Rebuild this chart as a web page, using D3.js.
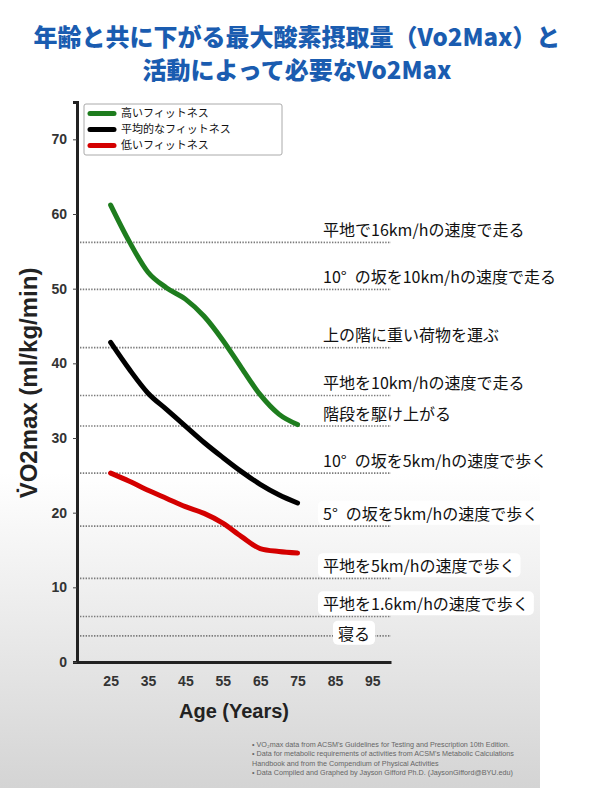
<!DOCTYPE html>
<html>
<head>
<meta charset="utf-8">
<script src="https://cdn.jsdelivr.net/npm/d3@7"></script>
<style>
  html, body { margin: 0; padding: 0; background: #fff; }
  svg { display: block; }
</style>
</head>
<body>
<svg></svg>
<script>
let width = 600;
let height = 800;

// values
const ages = [25, 30, 35, 40, 45, 50, 55, 60, 65, 70, 75];
const highFit = [61.2, 56.3, 52.2, 50.1, 48.6, 46.3, 43.1, 39.4, 35.8, 33.2, 31.8];
const avgFit = [42.8, 39.2, 36.0, 33.8, 31.6, 29.4, 27.4, 25.5, 23.8, 22.4, 21.3];
const lowFit = [25.3, 24.2, 23.0, 21.9, 20.8, 19.9, 18.6, 16.8, 15.2, 14.8, 14.6];
const seriesNames = ['高いフィットネス', '平均的なフィットネス', '低いフィットネス'];
const seriesColors = ['#1e7d1e', '#000000', '#d40000'];

const activities = [
    '平地で16km/hの速度で走る',
    '10°\u2002の坂を10km/hの速度で走る',
    '上の階に重い荷物を運ぶ',
    '平地を10km/hの速度で走る',
    '階段を駆け上がる',
    '10°\u2002の坂を5km/hの速度で歩く',
    '5°\u2002の坂を5km/hの速度で歩く',
    '平地を5km/hの速度で歩く',
    '平地を1.6km/hの速度で歩く',
    '寝る'
];
const activityVo2 = [56.2, 49.9, 42.1, 35.7, 31.6, 25.3, 18.2, 11.2, 6.1, 3.5];

const xTicks = [25, 35, 45, 55, 65, 75, 85, 95];
const yTicks = [0, 10, 20, 30, 40, 50, 60, 70];

const titleLines = ['年齢と共に下がる最大酸素摂取量（Vo2Max）と', '活動によって必要なVo2Max'];
const footnotes = [
    '•  VO₂max data from ACSM\'s Guidelines for Testing and Prescription 10th Edition.',
    '•  Data for metabolic requirements of activities from ACSM\'s Metabolic Calculations',
    '     Handbook and from the Compendium of Physical Activities',
    '•  Data Compiled and Graphed by Jayson Gifford Ph.D. (JaysonGifford@BYU.edu)'
];

let svg = d3.select('svg')
    .attr('width', width)
    .attr('height', height);

// grey fade behind the chart picture
let grad = svg.append('defs').append('linearGradient')
    .attr('id', 'bg')
    .attr('x1', 0).attr('y1', 0).attr('x2', 0).attr('y2', 1);
grad.append('stop').attr('offset', '0%').attr('stop-color', '#ffffff');
grad.append('stop').attr('offset', '60%').attr('stop-color', '#ffffff');
grad.append('stop').attr('offset', '100%').attr('stop-color', '#d4d4d4');

svg.append('rect')
    .attr('x', 0).attr('y', 0)
    .attr('width', 540).attr('height', 788)
    .attr('fill', 'url(#bg)');

// title
svg.append('g').selectAll('text')
    .data(titleLines)
    .enter()
    .append('text')
    .attr('x', 297)
    .attr('y', (d, i) => 46 + i * 33)
    .attr('text-anchor', 'middle')
    .attr('font-family', '"Noto Sans CJK JP", sans-serif')
    .attr('font-weight', 900)
    .attr('font-size', 24)
    .attr('fill', '#1a5cb0')
    .text(d => d);

let x = d3.scaleLinear().domain([16, 100]).range([77, 391]);
let y = d3.scaleLinear().domain([0, 75]).range([662, 102]);

let chart = svg.append('g');

// dotted activity lines
chart.selectAll('line.activity')
    .data(activityVo2)
    .enter()
    .append('line')
    .classed('activity', true)
    .attr('x1', x(16) + 3)
    .attr('x2', x(100))
    .attr('y1', d => y(d))
    .attr('y2', d => y(d))
    .attr('stroke', '#7a7a7a')
    .attr('stroke-width', 1.6)
    .attr('stroke-dasharray', '1.4,1.4');

// axes
let yAxis = d3.axisLeft(y).tickValues(yTicks).tickSize(4).tickPadding(6);
let xAxis = d3.axisBottom(x).tickValues(xTicks).tickSize(0).tickPadding(14);

let yg = chart.append('g')
    .attr('transform', `translate(${x(16)},0)`)
    .call(yAxis);
let xg = chart.append('g')
    .attr('transform', `translate(0,${y(0)})`)
    .call(xAxis);

[yg, xg].forEach(g => {
    g.select('.domain').attr('stroke', '#222').attr('stroke-width', 3);
    g.selectAll('.tick line').attr('stroke', '#444').attr('stroke-width', 1);
    g.selectAll('.tick text')
        .attr('font-family', '"Liberation Sans", Arial, sans-serif')
        .attr('font-weight', 'bold')
        .attr('font-size', 14)
        .attr('fill', '#333');
});
xg.selectAll('.tick text').attr('dy', '0.71em');

// axis titles
chart.append('text')
    .attr('x', 234)
    .attr('y', 718)
    .attr('text-anchor', 'middle')
    .attr('font-family', '"Liberation Sans", Arial, sans-serif')
    .attr('font-weight', 'bold')
    .attr('font-size', 20)
    .attr('fill', '#222')
    .text('Age (Years)');

chart.append('text')
    .attr('transform', 'translate(37,383) rotate(-90)')
    .attr('text-anchor', 'middle')
    .attr('font-family', '"Liberation Sans", Arial, sans-serif')
    .attr('font-weight', 'bold')
    .attr('font-size', 24)
    .attr('fill', '#222')
    .text('V\u0307O2max (ml/kg/min)');

// fitness curves
let line = d3.line()
    .x((d, i) => x(ages[i]))
    .y(d => y(d))
    .curve(d3.curveMonotoneX);

chart.selectAll('path.series')
    .data([highFit, avgFit, lowFit])
    .enter()
    .append('path')
    .classed('series', true)
    .attr('d', line)
    .attr('fill', 'none')
    .attr('stroke', (d, i) => seriesColors[i])
    .attr('stroke-width', 5)
    .attr('stroke-linecap', 'round')
    .attr('stroke-linejoin', 'round');

// legend
let legend = chart.append('g').attr('transform', 'translate(84,104)');
legend.append('rect')
    .attr('width', 198).attr('height', 51)
    .attr('rx', 2)
    .attr('fill', '#fff')
    .attr('stroke', '#aaa')
    .attr('stroke-width', 1);

let item = legend.selectAll('g.item')
    .data(seriesNames)
    .enter()
    .append('g')
    .classed('item', true)
    .attr('transform', (d, i) => `translate(0,${9.5 + i * 16})`);

item.append('line')
    .attr('x1', 6).attr('x2', 30)
    .attr('stroke', (d, i) => seriesColors[i])
    .attr('stroke-width', 5)
    .attr('stroke-linecap', 'round');

item.append('text')
    .attr('x', 37)
    .attr('dy', '0.36em')
    .attr('font-family', '"Noto Sans CJK JP", sans-serif')
    .attr('font-size', 11)
    .attr('fill', '#111')
    .text(d => d);

// activity labels with white backing
let labels = chart.selectAll('g.label')
    .data(activities)
    .enter()
    .append('g')
    .classed('label', true)
    .attr('transform', (d, i) => {
        let last = i === activities.length - 1;
        return `translate(${last ? 338 : 323},${y(activityVo2[i]) - (last ? 2 : 12)})`;
    });

labels.append('text')
    .attr('dy', '0.36em')
    .attr('font-family', '"Noto Sans CJK JP", sans-serif')
    .attr('font-size', 16)
    .attr('fill', '#111')
    .text(d => d);

labels.each(function () {
    let g = d3.select(this);
    let bb = g.select('text').node().getBBox();
    g.insert('rect', 'text')
        .attr('x', bb.x - 5)
        .attr('y', bb.y)
        .attr('width', bb.width + 10)
        .attr('height', bb.height)
        .attr('rx', 5)
        .attr('fill', '#fff');
});

// footnotes
svg.append('g').selectAll('text')
    .data(footnotes)
    .enter()
    .append('text')
    .attr('x', 252)
    .attr('y', (d, i) => 747 + i * 9.3)
    .attr('font-family', '"Liberation Sans", Arial, sans-serif')
    .attr('font-size', 7.2)
    .attr('fill', '#666')
    .text(d => d);
</script>
</body>
</html>
